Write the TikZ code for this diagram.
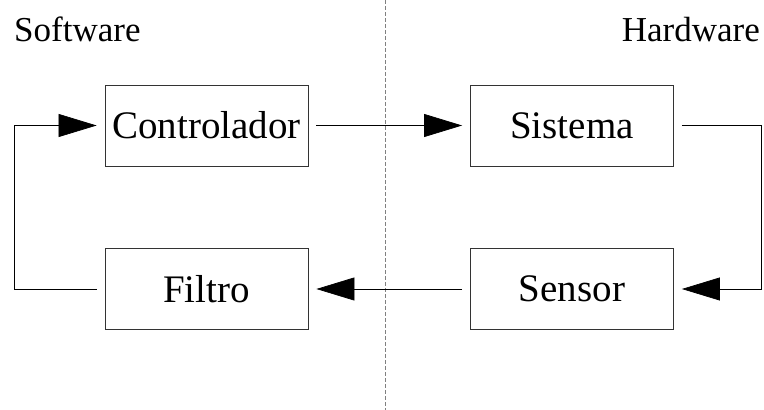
\documentclass[tikz,border=0pt]{standalone}
\usepackage{fontspec}
\setmainfont{Liberation Serif}
\usetikzlibrary{arrows.meta}
\tikzset{blk/.style={draw=black!80,line width=0.8pt,minimum width=203pt,minimum height=81pt,inner sep=0pt,font=\fontsize{39}{45}\selectfont},
  flow/.style={line width=0.7pt,shorten <=8pt,shorten >=8pt,-{Triangle[length=38pt,width=23pt]}}}
\def\side#1{\fontsize{35}{40}\selectfont #1}

\begin{document}
\begin{tikzpicture}[x=1pt,y=1pt]
  \useasboundingbox (0,0) rectangle (764,410);
\draw[gray,line width=0.8pt,dash pattern=on 4pt off 2pt] (385,410) -- (385,0);
\node[anchor=base west,inner xsep=0pt] (sw) at (14,368) {\side{Software}};
\node[anchor=base east,inner xsep=0pt] (hw) at (760,368) {\side{Hardware}};
  \node[blk] (ctrl) at (206.5,284.5) {Controlador};
  \node[blk] (sis) at (572,284.5) {Sistema};
  \node[blk] (sen) at (572,121) {Sensor};
  \node[blk] (fil) at (206.5,121) {Filtro};
\coordinate (l) at (14,0);
\coordinate (r) at (761,0);
\draw[flow] (ctrl.east) -- (sis.west);
\draw[flow] (sis.east) -- (sis.east -| r) |- (sen.east);
\draw[flow] (sen.west) -- (fil.east);
\draw[flow] (fil.west) -- (fil.west -| l) |- (ctrl.west);
\end{tikzpicture}
\end{document}
